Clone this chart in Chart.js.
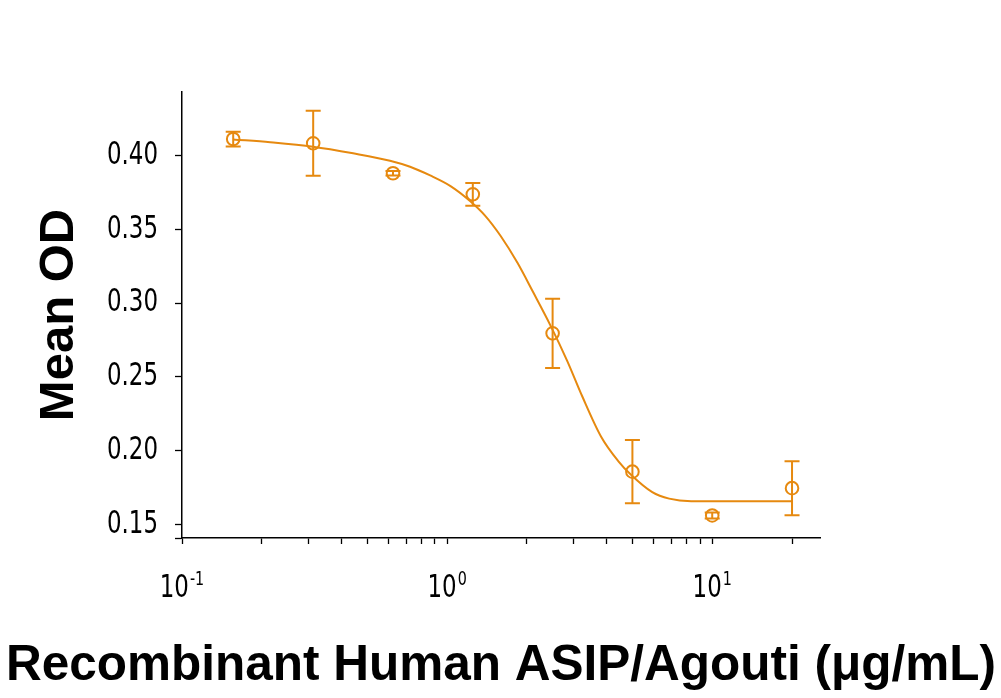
<!DOCTYPE html>
<html>
<head>
<meta charset="utf-8">
<script src="https://cdn.jsdelivr.net/npm/chart.js@4.4.1/dist/chart.umd.min.js"></script>
<style>
  html, body { margin: 0; padding: 0; background: #fff; }
  #wrap { width: 1001px; height: 698px; }
</style>
</head>
<body>
<div id="wrap"><canvas id="chart" width="1001" height="698"></canvas></div>
<script>
// concentraciones (µg/mL) y OD medias con su error
const concentrations = [0.156, 0.3125, 0.625, 1.25, 2.5, 5, 10, 20];
const meanOD = [0.4113, 0.4084, 0.3881, 0.3738, 0.2795, 0.1857, 0.1560, 0.1745];
const errorOD = [0.005, 0.022, 0.0016, 0.0077, 0.0235, 0.0215, 0.002, 0.0183];

// curva ajustada
const fitX = [0.156, 0.215, 0.312, 0.442, 0.609, 0.725, 0.863, 1.03, 1.22, 1.39, 1.59, 1.84, 2.11, 2.45, 2.84, 3.23, 3.81, 4.42, 4.95, 5.94, 6.88, 8.33, 20];
const fitY = [0.4110, 0.4091, 0.4061, 0.4016, 0.3966, 0.3925, 0.3866, 0.3794, 0.3693, 0.3594, 0.3457, 0.3275, 0.3075, 0.2851, 0.2607, 0.2370, 0.2094, 0.1929, 0.1834, 0.1718, 0.1674, 0.1657, 0.1657];

// ticks
const yTicks = [0.15, 0.20, 0.25, 0.30, 0.35, 0.40];
const xTicks = [0.1, 0.2, 0.3, 0.4, 0.5, 0.6, 0.7, 0.8, 0.9, 1, 2, 3, 4, 5, 6, 7, 8, 9, 10, 20];
const xDecades = [0.1, 1, 10];
const xExponents = ["-1", "0", "1"];

const X_TITLE = "Recombinant Human ASIP/Agouti (μg/mL)";
const ORANGE = "#e6890f";
const NARROW = "'Liberation Sans Narrow', 'DejaVu Sans Condensed', 'DejaVu Sans', sans-serif";
const BOLD = "'Liberation Sans', Arial, Helvetica, sans-serif";

// barras de error
const errorBars = {
  id: "errorBars",
  afterDatasetsDraw(chart) {
    const { ctx, scales: { x, y } } = chart;
    ctx.save();
    ctx.strokeStyle = ORANGE;
    ctx.lineWidth = 2;
    concentrations.forEach((c, i) => {
      const px = x.getPixelForValue(c);
      const top = y.getPixelForValue(meanOD[i] + errorOD[i]);
      const bot = y.getPixelForValue(meanOD[i] - errorOD[i]);
      ctx.beginPath();
      ctx.moveTo(px, top); ctx.lineTo(px, bot);
      ctx.moveTo(px - 7.5, top); ctx.lineTo(px + 7.5, top);
      ctx.moveTo(px - 7.5, bot); ctx.lineTo(px + 7.5, bot);
      ctx.stroke();
    });
    ctx.restore();
  },
};

// textos de ejes: fuente estrecha (comprimida) y título X sin límite de ancho
const axisText = {
  id: "axisText",
  afterDraw(chart) {
    const { ctx, chartArea, scales: { x, y } } = chart;
    ctx.save();
    ctx.fillStyle = "#000";

    // factor de compresión para imitar la fuente condensada
    ctx.font = `32px ${NARROW}`;
    const sx = 51 / ctx.measureText("0.40").width;

    // etiquetas del eje Y
    ctx.textAlign = "right";
    ctx.textBaseline = "middle";
    yTicks.forEach((v) => {
      ctx.save();
      ctx.translate(158, y.getPixelForValue(v));
      ctx.scale(sx, 1);
      ctx.fillText(v.toFixed(2), 0, 0);
      ctx.restore();
    });

    // etiquetas 10^n del eje X
    ctx.textAlign = "left";
    ctx.textBaseline = "alphabetic";
    xDecades.forEach((d, i) => {
      const px = x.getPixelForValue(d);
      ctx.font = `32px ${NARROW}`;
      const wBase = ctx.measureText("10").width * sx;
      ctx.font = `20px ${NARROW}`;
      const wExp = ctx.measureText(xExponents[i]).width * sx;
      const start = px - (wBase + wExp + 1) / 2;
      ctx.save();
      ctx.translate(start, 597);
      ctx.scale(sx, 1);
      ctx.font = `32px ${NARROW}`;
      ctx.fillText("10", 0, 0);
      ctx.font = `20px ${NARROW}`;
      ctx.fillText(xExponents[i], (wBase + 1) / sx, -12);
      ctx.restore();
    });

    // título del eje X
    ctx.font = `bold 49.5px ${BOLD}`;
    ctx.textAlign = "center";
    ctx.textBaseline = "middle";
    ctx.fillText(X_TITLE, (chartArea.left + chartArea.right) / 2, 666);
    ctx.restore();
  },
};

new Chart(document.getElementById("chart"), {
  data: {
    datasets: [
      {
        type: "line",
        data: fitX.map((v, i) => ({ x: v, y: fitY[i] })),
        borderColor: ORANGE,
        borderWidth: 2,
        pointRadius: 0,
        cubicInterpolationMode: "monotone",
        fill: false,
      },
      {
        type: "scatter",
        data: concentrations.map((v, i) => ({ x: v, y: meanOD[i] })),
        borderColor: ORANGE,
        backgroundColor: "rgba(0,0,0,0)",
        borderWidth: 2,
        pointRadius: 6.3,
        pointStyle: "circle",
        showLine: false,
      },
    ],
  },
  options: {
    responsive: false,
    animation: false,
    devicePixelRatio: 1,
    layout: { padding: { top: 92, right: 181, bottom: 0, left: 0 } },
    plugins: { legend: { display: false }, tooltip: { enabled: false } },
    scales: {
      x: {
        type: "logarithmic",
        position: "bottom",
        min: 0.1,
        max: 25.5,
        border: { color: "#000", width: 1.5 },
        grid: { drawOnChartArea: false, drawTicks: true, tickLength: 6, tickColor: "#000", tickWidth: 1.3 },
        ticks: { callback: () => "" },
        afterBuildTicks: (s) => { s.ticks = xTicks.map((v) => ({ value: v })); },
        afterFit: (s) => { s.height = 160; },
        title: { display: false },
      },
      y: {
        type: "linear",
        position: "left",
        min: 0.1407,
        max: 0.4432,
        border: { color: "#000", width: 1.5 },
        grid: { drawOnChartArea: false, drawTicks: true, tickLength: 7, tickColor: "#000", tickWidth: 1.3 },
        ticks: { callback: () => "" },
        afterBuildTicks: (s) => { s.ticks = [s.min, ...yTicks].map((v) => ({ value: v })); },
        afterFit: (s) => { s.width = 182; },
        title: {
          display: true,
          text: "Mean OD",
          color: "#000",
          font: { family: BOLD, size: 49, weight: "bold", lineHeight: 1 },
          padding: { top: 34.5, bottom: 0 },
        },
      },
    },
  },
  plugins: [errorBars, axisText],
});
</script>
</body>
</html>
